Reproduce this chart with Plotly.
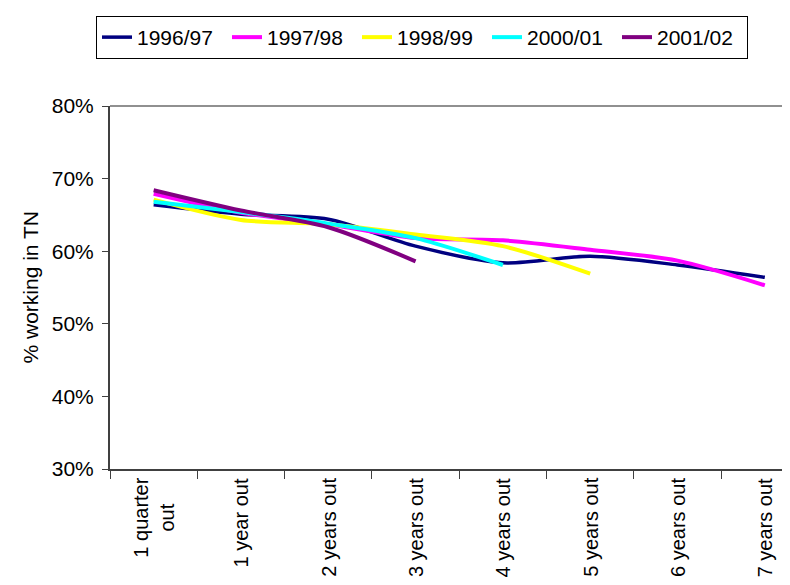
import plotly.graph_objects as go

categories = ["1 quarter out", "1 year out", "2 years out", "3 years out",
              "4 years out", "5 years out", "6 years out", "7 years out"]
tick_labels = ["1 quarter<br>out", "1 year out", "2 years out", "3 years out",
               "4 years out", "5 years out", "6 years out", "7 years out"]
y_ticks = [0.3, 0.4, 0.5, 0.6, 0.7, 0.8]

s_1996_97 = [0.664, 0.651, 0.644, 0.607, 0.584, 0.593, 0.581, 0.564]
s_1997_98 = [0.679, 0.653, 0.637, 0.618, 0.615, 0.602, 0.587, 0.553]
s_1998_99 = [0.671, 0.643, 0.637, 0.623, 0.607, 0.569]
s_2000_01 = [0.668, 0.654, 0.638, 0.618, 0.581]
s_2001_02 = [0.684, 0.656, 0.633, 0.586]

series = [
    ("1996/97", s_1996_97, "#000080", 3.5),
    ("1997/98", s_1997_98, "#FF00FF", 4),
    ("1998/99", s_1998_99, "#FFFF00", 4),
    ("2000/01", s_2000_01, "#00FFFF", 4),
    ("2001/02", s_2001_02, "#800080", 4),
]

FONT = "Arial, 'Liberation Sans', sans-serif"
FS = 21
fig = go.Figure()
for name, vals, color, w in series:
    fig.add_trace(go.Scatter(
        x=categories[:len(vals)], y=vals, name=name, mode="lines",
        line=dict(color=color, width=w, shape="spline", smoothing=0.8),
    ))

annotations = [dict(text="% working in TN", xref="paper", yref="paper",
                    x=(22 - 102) / 688, y=0.5, textangle=-90, showarrow=False,
                    font=dict(size=FS), xanchor="center", yanchor="middle")]
for cat, lab in zip(categories, tick_labels):
    annotations.append(dict(
        text=lab, x=cat, xref="x", y=0, yref="paper", yshift=-8,
        textangle=-90, showarrow=False, align="center", borderpad=0,
        xanchor="center", yanchor="top", font=dict(size=20),
    ))

fig.update_layout(
    width=790, height=585,
    margin=dict(l=102, r=0, t=98, b=124),
    paper_bgcolor="white", plot_bgcolor="white",
    font=dict(family=FONT, size=FS, color="black"),
    showlegend=True,
    legend=dict(
        orientation="h", x=(88 - 102) / 688, xanchor="left", y=1.248, yanchor="top",
        bordercolor="black", borderwidth=1, bgcolor="white",
        font=dict(size=FS), entrywidth=85, tracegroupgap=0,
    ),
    xaxis=dict(
        type="category", categoryorder="array", categoryarray=categories,
        range=[-0.5, 7.38], tickson="boundaries",
        ticks="outside", ticklen=8, tickcolor="#404040",
        showline=True, linecolor="#404040", linewidth=2,
        showgrid=False, zeroline=False, showticklabels=False,
    ),
    yaxis=dict(
        range=[0.3, 0.8], tickvals=y_ticks, tickformat=".0%",
        ticks="outside", ticklen=6, tickcolor="#404040",
        showline=True, linecolor="#404040", linewidth=2,
        showgrid=False, zeroline=False, tickfont=dict(size=FS),
        ticklabelstandoff=4,
    ),
    shapes=[dict(type="line", xref="paper", yref="paper", x0=0, x1=1, y0=1, y1=1,
                 line=dict(color="#909090", width=2))],
    annotations=annotations,
)

fig.write_html("out.html")
